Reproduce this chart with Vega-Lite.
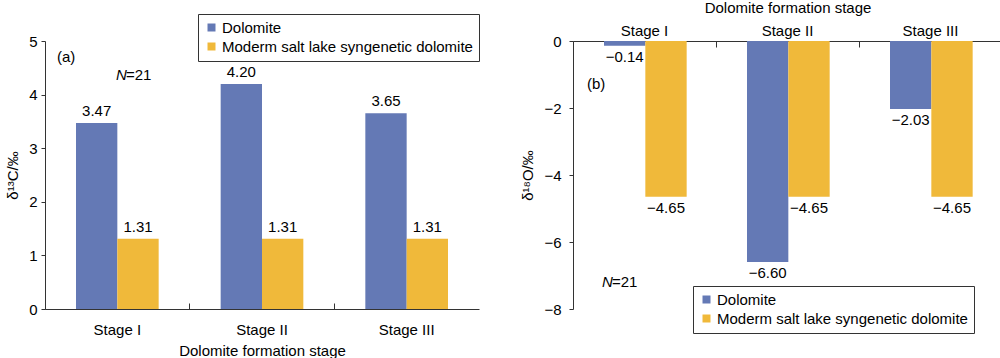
{
  "$schema": "https://vega.github.io/schema/vega-lite/v6.json",
  "background": "white",
  "padding": {"left": 5, "top": 0, "right": 0, "bottom": 0},
  "bounds": "flush",
  "spacing": 94,
  "resolve": {"scale": {"color": "independent"}, "legend": {"color": "independent"}},
  "config": {
    "font": "Liberation Sans",
    "view": {"stroke": null},
    "axis": {
      "grid": false,
      "domainColor": "#333333",
      "tickColor": "#333333",
      "labelColor": "#000000",
      "titleColor": "#000000",
      "labelFontSize": 15,
      "titleFontSize": 15,
      "titleFontWeight": "normal",
      "labelAngle": 0
    },
    "legend": {
      "labelFontSize": 15,
      "labelColor": "#000000",
      "symbolType": "square",
      "symbolSize": 64,
      "symbolStrokeWidth": 0,
      "strokeColor": "#333333",
      "fillColor": "white",
      "padding": 6,
      "rowPadding": 3,
      "labelOffset": 3,
      "labelLimit": 400
    }
  },
  "datasets": {
    "d": [
      {"stage": "Stage I", "type": "Dolomite", "c13": 3.47, "o18": -0.14},
      {"stage": "Stage I", "type": "Moderm salt lake syngenetic dolomite", "c13": 1.31, "o18": -4.65},
      {"stage": "Stage II", "type": "Dolomite", "c13": 4.20, "o18": -6.60},
      {"stage": "Stage II", "type": "Moderm salt lake syngenetic dolomite", "c13": 1.31, "o18": -4.65},
      {"stage": "Stage III", "type": "Dolomite", "c13": 3.65, "o18": -2.03},
      {"stage": "Stage III", "type": "Moderm salt lake syngenetic dolomite", "c13": 1.31, "o18": -4.65}
    ]
  },
  "hconcat": [
    {
      "width": 434,
      "height": 268,
      "layer": [
        {
          "data": {"name": "d"},
          "mark": {"type": "bar"},
          "encoding": {
            "x": {"field": "stage", "type": "nominal", "sort": null,
                  "scale": {"paddingInner": 0, "paddingOuter": 0},
                  "title": "Dolomite formation stage",
                  "axis": {"tickSize": -6, "labelPadding": 19, "titlePadding": 6, "bandPosition": 0}},
            "xOffset": {"field": "type", "type": "nominal", "sort": null,
                        "scale": {"paddingInner": 0, "paddingOuter": 0.75}},
            "y": {"field": "c13", "type": "quantitative",
                  "scale": {"domain": [0, 5]},
                  "title": "δ¹³C/‰",
                  "axis": {"values": [0, 1, 2, 3, 4, 5], "tickSize": 4, "labelPadding": 4, "titlePadding": 8}},
            "color": {"field": "type", "type": "nominal", "sort": null,
                      "scale": {"domain": ["Dolomite", "Moderm salt lake syngenetic dolomite"], "range": ["#6479b5", "#f0b93a"]},
                      "legend": {"title": null, "orient": "none", "legendX": 153, "legendY": -27}}
          }
        },
        {
          "data": {"name": "d"},
          "mark": {"type": "text", "baseline": "bottom", "dy": -4, "fontSize": 15},
          "encoding": {
            "x": {"field": "stage", "type": "nominal", "sort": null},
            "xOffset": {"field": "type", "type": "nominal", "sort": null},
            "y": {"field": "c13", "type": "quantitative"},
            "text": {"field": "c13", "type": "quantitative", "format": ".2f"}
          }
        },
        {
          "data": {"values": [{"stage": "Stage I", "v": 4.70, "t": "(a)"}]},
          "mark": {"type": "text", "align": "left", "baseline": "middle", "dx": 12, "fontSize": 15},
          "encoding": {
            "x": {"field": "stage", "type": "nominal", "bandPosition": 0},
            "y": {"field": "v", "type": "quantitative"},
            "text": {"field": "t"}
          }
        },
        {
          "data": {"values": [{"stage": "Stage I", "v": 4.37, "t": "N"}]},
          "mark": {"type": "text", "align": "left", "baseline": "middle", "dx": 71, "fontSize": 15, "fontStyle": "italic"},
          "encoding": {
            "x": {"field": "stage", "type": "nominal", "bandPosition": 0},
            "y": {"field": "v", "type": "quantitative"},
            "text": {"field": "t"}
          }
        },
        {
          "data": {"values": [{"stage": "Stage I", "v": 4.37, "t": "=21"}]},
          "mark": {"type": "text", "align": "left", "baseline": "middle", "dx": 81, "fontSize": 15},
          "encoding": {
            "x": {"field": "stage", "type": "nominal", "bandPosition": 0},
            "y": {"field": "v", "type": "quantitative"},
            "text": {"field": "t"}
          }
        }
      ]
    },
    {
      "width": 429,
      "height": 268,
      "layer": [
        {
          "data": {"name": "d"},
          "mark": {"type": "bar"},
          "encoding": {
            "x": {"field": "stage", "type": "nominal", "sort": null,
                  "scale": {"paddingInner": 0, "paddingOuter": 0},
                  "title": "Dolomite formation stage",
                  "axis": {"orient": "top", "tickSize": -6, "labelPadding": 9, "titlePadding": 8, "bandPosition": 0}},
            "xOffset": {"field": "type", "type": "nominal", "sort": null,
                        "scale": {"paddingInner": 0, "paddingOuter": 0.75}},
            "y": {"field": "o18", "type": "quantitative",
                  "scale": {"domain": [-8, 0]},
                  "title": "δ¹⁸O/‰",
                  "axis": {"values": [0, -2, -4, -6, -8], "tickSize": 4, "labelPadding": 8, "titlePadding": 8}},
            "color": {"field": "type", "type": "nominal", "sort": null,
                      "scale": {"domain": ["Dolomite", "Moderm salt lake syngenetic dolomite"], "range": ["#6479b5", "#f0b93a"]},
                      "legend": {"title": null, "orient": "none", "legendX": 120, "legendY": 245}}
          }
        },
        {
          "data": {"name": "d"},
          "mark": {"type": "text", "baseline": "top", "dy": 4, "fontSize": 15},
          "encoding": {
            "x": {"field": "stage", "type": "nominal", "sort": null},
            "xOffset": {"field": "type", "type": "nominal", "sort": null},
            "y": {"field": "o18", "type": "quantitative"},
            "text": {"field": "o18", "type": "quantitative", "format": ".2f"}
          }
        },
        {
          "data": {"values": [{"stage": "Stage I", "v": -1.28, "t": "(b)"}]},
          "mark": {"type": "text", "align": "left", "baseline": "middle", "dx": 14, "fontSize": 15},
          "encoding": {
            "x": {"field": "stage", "type": "nominal", "bandPosition": 0},
            "y": {"field": "v", "type": "quantitative"},
            "text": {"field": "t"}
          }
        },
        {
          "data": {"values": [{"stage": "Stage I", "v": -7.19, "t": "N"}]},
          "mark": {"type": "text", "align": "left", "baseline": "middle", "dx": 29, "fontSize": 15, "fontStyle": "italic"},
          "encoding": {
            "x": {"field": "stage", "type": "nominal", "bandPosition": 0},
            "y": {"field": "v", "type": "quantitative"},
            "text": {"field": "t"}
          }
        },
        {
          "data": {"values": [{"stage": "Stage I", "v": -7.19, "t": "=21"}]},
          "mark": {"type": "text", "align": "left", "baseline": "middle", "dx": 39, "fontSize": 15},
          "encoding": {
            "x": {"field": "stage", "type": "nominal", "bandPosition": 0},
            "y": {"field": "v", "type": "quantitative"},
            "text": {"field": "t"}
          }
        }
      ]
    }
  ]
}
